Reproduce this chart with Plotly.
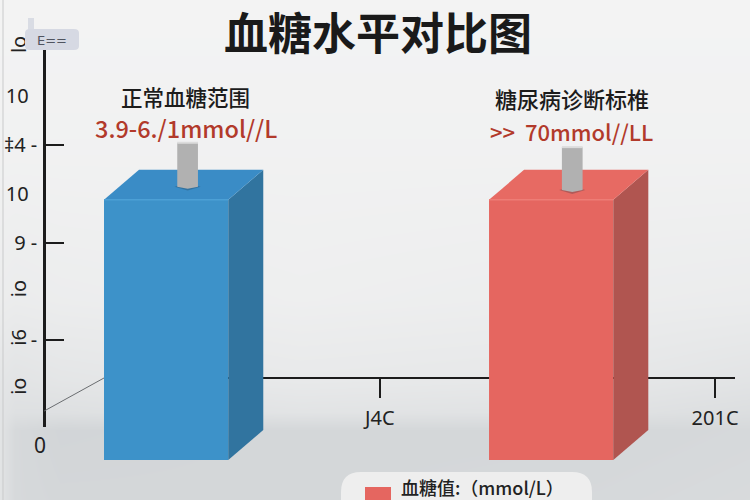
import plotly.graph_objects as go

# ---------- chart data ----------
bar_pos = [0.999, 2.003]
bar_base = [-0.45, -0.45]
bar_top = [4.88, 4.88]
face_colors = ["#3d92c9", "#e56660"]
side_colors = ["#31749f", "#b05550"]
top_colors = ["#3a8cc6", "#e76a63"]
edge_colors = ["#4ca0d6", "#ee7d76"]
peg_pos = [1.055, 2.058]
peg_base = [5.15, 5.08]
peg_top = [6.05, 5.96]
headings = ["正常血糖范围", "糖尿病诊断标椎"]
heading_x = [1.05, 2.057]
heading_y = [7.0, 6.96]
ranges = ["3.9-6./1mmol//L", ">>\u00a0\u00a070mmol//LL"]
range_x = [1.05, 2.057]
range_y = [6.35, 6.3]
range_size = [23.5, 22]
heading_size = [21.5, 22]
y_upright_vals = [2, 4, 5, 6, 7]
y_upright_text = ["-", "9 -", "10\u00a0\u2009", "‡4 -", "10\u00a0\u2009"]
y_rotated_vals = [1, 2, 3, 8]
y_rotated_text = ["io", "i6", "io", "lo"]
y_marked = [2, 4, 6]
x_tick_vals = [1.556, 2.43]
x_tick_text = ["J4C", "201C"]
floor_line_x = [0.681, 0.837]
floor_line_y = [0.553, 1.23]

# background shading grid (brightness only)
bg_x = [0, 15, 60, 300, 600, 750]
bg_y = [0, 150, 300, 380, 412, 430, 500]
bg_z = [
    [243, 243, 243, 243, 243, 243],
    [241, 241, 241, 241, 241, 241],
    [236, 235, 236, 238, 236, 235],
    [228, 226, 228, 232, 230, 226],
    [226, 222, 222, 226, 224, 220],
    [226, 214, 210, 212, 212, 214],
    [226, 214, 212, 212, 214, 216],
]

W, H = 750, 500
DEPTH_X, DEPTH_Y = 0.0913, 0.615
BAR_W = 0.324
PEG_W = 0.054
PEG_SHADOW_X, PEG_SHADOW_Y = 0.034, 0.08
# shared value scales; the visible axes span a part of the full-canvas data axes
X_FULL = [0.5658, 2.5215]
Y_FULL = [-1.27, 8.975]
X_VIS = [0.837, 2.482]
Y_VIS = [0.225, 8.05]
Y_VIS_DOMAIN = [(H - 427) / H, (H - 45) / H]

fig = go.Figure()
fig.add_trace(go.Heatmap(x=bg_x, y=bg_y, z=bg_z, zsmooth="best", showscale=False, hoverinfo="skip",
                         zmin=200, zmax=245,
                         colorscale=[[0, "rgb(200,204,207)"], [1, "rgb(245,245,245)"]],
                         xaxis="x", yaxis="y"))

# carriers that make the visible axes draw
for ya in ["y2", "y3"]:
    fig.add_trace(go.Scatter(x=[bar_pos[0]], y=[y_rotated_vals[0]], mode="none", showlegend=False,
                             xaxis="x2", yaxis=ya, hoverinfo="skip"))

fig.add_trace(go.Scatter(x=floor_line_x, y=floor_line_y, mode="lines", showlegend=False,
                         line=dict(color="#6a6d70", width=1), xaxis="x3", yaxis="y4", hoverinfo="skip"))

fig.add_trace(go.Bar(x=bar_pos, y=[t - b for t, b in zip(bar_top, bar_base)], base=bar_base, width=BAR_W,
                     marker=dict(color=face_colors, line=dict(width=0)),
                     showlegend=False, xaxis="x3", yaxis="y4"))

for x, b, t, sc, tc, ec in zip(bar_pos, bar_base, bar_top, side_colors, top_colors, edge_colors):
    l, r = x - BAR_W / 2, x + BAR_W / 2
    fig.add_trace(go.Scatter(x=[r, r + DEPTH_X, r + DEPTH_X, r, r], y=[t, t + DEPTH_Y, b + DEPTH_Y, b, t],
                             fill="toself", fillcolor=sc, mode="none", showlegend=False,
                             xaxis="x3", yaxis="y4", hoverinfo="skip"))
    fig.add_trace(go.Scatter(x=[l, l + DEPTH_X, r + DEPTH_X, r, l], y=[t, t + DEPTH_Y, t + DEPTH_Y, t, t],
                             fill="toself", fillcolor=tc, mode="none", showlegend=False,
                             xaxis="x3", yaxis="y4", hoverinfo="skip"))
    fig.add_trace(go.Scatter(x=[l, r], y=[t, t], mode="lines", line=dict(color=ec, width=1.5), showlegend=False,
                             xaxis="x3", yaxis="y4", hoverinfo="skip"))

for px, pb, pt in zip(peg_pos, peg_base, peg_top):
    hw = PEG_W / 2
    sx, sy = PEG_SHADOW_X, PEG_SHADOW_Y
    fig.add_trace(go.Scatter(x=[px - sx, px, px + sx, px, px - sx], y=[pb, pb - sy, pb, pb + sy, pb],
                             fill="toself", fillcolor="rgba(40,50,60,0.28)", mode="none", showlegend=False,
                             xaxis="x3", yaxis="y4", hoverinfo="skip"))
    fig.add_trace(go.Scatter(x=[px - hw, px - hw, px, px + hw, px + hw, px - hw],
                             y=[pt, pb, pb - sy / 2, pb, pt, pt],
                             fill="toself", fillcolor="#b1b1b1", mode="none", showlegend=False,
                             xaxis="x3", yaxis="y4", hoverinfo="skip"))
    fig.add_trace(go.Scatter(x=[px - hw, px + hw], y=[pt, pt], mode="lines", line=dict(color="#dcdcdc", width=2),
                             showlegend=False, xaxis="x3", yaxis="y4", hoverinfo="skip"))

annotations = []
for hx, hy, h, hs in zip(heading_x, heading_y, headings, heading_size):
    annotations.append(dict(x=hx, y=hy, xref="x3", yref="y4", text=h, showarrow=False,
                            xanchor="center", yanchor="middle",
                            font=dict(family="Noto Sans CJK SC", size=hs, color="#1c1c1c", weight=500)))
for rx, ry, r, rs in zip(range_x, range_y, ranges, range_size):
    annotations.append(dict(x=rx, y=ry, xref="x3", yref="y4", text=r, showarrow=False,
                            xanchor="center", yanchor="middle",
                            font=dict(family="Noto Sans CJK SC", size=rs, color="#b23a2b", weight=500)))
annotations += [
    dict(x=40, y=445, xref="x", yref="y", text="0", showarrow=False, xanchor="center", yanchor="middle",
         font=dict(family="Noto Sans", size=21, color="#222")),
    dict(x=482, y=487, xref="x", yref="y", text="血糖值:（mmol/L）", showarrow=False, xanchor="center",
         yanchor="middle", font=dict(family="Noto Sans CJK SC", size=18, color="#222", weight=500)),
    dict(x=52, y=40, xref="x", yref="y", text="E==", showarrow=False, xanchor="center", yanchor="middle",
         font=dict(family="DejaVu Sans", size=13, color="#50545f")),
]

shapes = [
    dict(type="line", xref="x", yref="y", x0=3, x1=3, y0=0, y1=500, line=dict(color="#c9cacb", width=1)),
    dict(type="rect", xref="x", yref="y", x0=28, x1=34, y0=18, y1=32, fillcolor="#d9dce4", line_width=0),
    dict(type="path", xref="x", yref="y",
         path="M 30 29 L 74 29 Q 79 29 79 33 L 79 46 Q 79 50 74 50 L 30 50 Q 25 50 25 46 L 25 33 Q 25 29 30 29 Z",
         fillcolor="#d6d9e3", line_width=0),
    dict(type="path", xref="x", yref="y",
         path="M 361 472 L 572 472 Q 592 472 592 492 L 592 500 L 341 500 L 341 492 Q 341 472 361 472 Z",
         fillcolor="#eeeeee", line_width=0),
    dict(type="rect", xref="x", yref="y", x0=365, x1=391, y0=487, y1=500, fillcolor="#e56660", line_width=0),
]

TICKFONT = dict(family="Noto Sans", size=20, color="#222222")

fig.update_layout(
    width=W, height=H, autosize=False, margin=dict(l=0, r=0, t=0, b=0, pad=0, autoexpand=False),
    paper_bgcolor="#f0f0f0", plot_bgcolor="rgba(0,0,0,0)",
    showlegend=False, barmode="overlay",
    title=dict(text="血糖水平对比图", x=378 / W, y=1 - 35 / H, xanchor="center", yanchor="middle",
               font=dict(family="Noto Sans CJK SC", size=44, color="#1a1a1a", weight="bold")),
    xaxis=dict(domain=[0, 1], range=[0, W], visible=False, fixedrange=True),
    yaxis=dict(domain=[0, 1], range=[H, 0], visible=False, fixedrange=True, anchor="x"),
    xaxis2=dict(domain=[104 / W, 735 / W], range=X_VIS, anchor="free", position=(H - 378) / H,
                tickvals=x_tick_vals, ticktext=x_tick_text, ticks="outside", ticklen=19, tickwidth=2,
                tickcolor="#1c1c1c", showline=True, linecolor="#1c1c1c", linewidth=2, showgrid=False,
                zeroline=False, ticklabelstandoff=3,
                tickfont=dict(family="Noto Sans", size=20, color="#222222")),
    yaxis2=dict(domain=Y_VIS_DOMAIN, range=Y_VIS, anchor="free", position=44 / W,
                tickvals=y_upright_vals, ticktext=y_upright_text, ticks="", showline=True, linecolor="#1c1c1c",
                linewidth=2.5, showgrid=False, zeroline=False, tickfont=TICKFONT, ticklabelstandoff=2,
                minor=dict(tickvals=y_marked, ticks="inside", ticklen=18, tickwidth=2, tickcolor="#1c1c1c")),
    yaxis3=dict(range=Y_VIS, anchor="free", position=44 / W,
                overlaying="y2", side="left", tickvals=y_rotated_vals, ticktext=y_rotated_text, tickangle=-90,
                ticks="", showline=False, showgrid=False, zeroline=False, tickfont=TICKFONT, ticklabelstandoff=14),
    xaxis3=dict(domain=[0, 1], range=X_FULL, visible=False, fixedrange=True, anchor="y4"),
    yaxis4=dict(domain=[0, 1], range=Y_FULL, visible=False, fixedrange=True, anchor="x3"),
    annotations=annotations, shapes=shapes,
)

fig.write_html("out.html", post_script="document.body.style.margin='0';",
               config=dict(displayModeBar=False))
